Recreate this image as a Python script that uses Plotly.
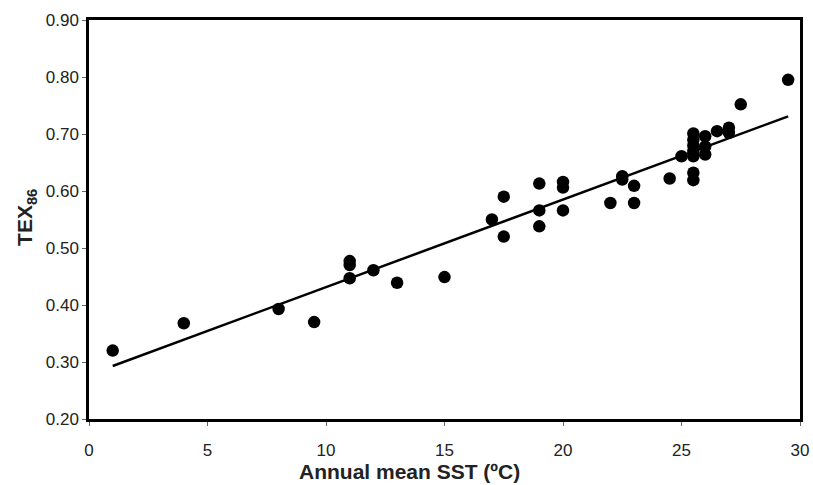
import plotly.graph_objects as go

sst = [1, 4, 8, 9.5, 11, 11, 11, 12, 13, 15, 17, 17.5, 17.5, 19, 19, 19, 20, 20, 20,
       22, 22.5, 22.5, 23, 23, 24.5, 25, 25.5, 25.5, 25.5, 25.5, 25.5, 25.5, 25.5,
       26, 26, 26, 26.5, 27, 27, 27.5, 29.5]
tex86 = [0.320, 0.368, 0.393, 0.370, 0.477, 0.470, 0.447, 0.461, 0.439, 0.449, 0.550,
         0.590, 0.520, 0.613, 0.566, 0.538, 0.616, 0.606, 0.566,
         0.579, 0.626, 0.620, 0.609, 0.579, 0.622, 0.661, 0.701, 0.690, 0.680, 0.670,
         0.661, 0.632, 0.619, 0.696, 0.678, 0.664, 0.705, 0.711, 0.702, 0.752, 0.795]

fit_x = [1, 29.5]
fit_y = [0.293, 0.731]

x_ticks = [0, 5, 10, 15, 20, 25, 30]
y_ticks = [0.2, 0.3, 0.4, 0.5, 0.6, 0.7, 0.8, 0.9]
y_tick_labels = ["0.20", "0.30", "0.40", "0.50", "0.60", "0.70", "0.80", "0.90"]

FONT = "Liberation Sans, Arial"

fig = go.Figure()
fig.add_trace(go.Scatter(x=fit_x, y=fit_y, mode="lines",
                         line=dict(color="black", width=2.5), showlegend=False))
fig.add_trace(go.Scatter(x=sst, y=tex86, mode="markers",
                         marker=dict(color="black", size=12.5), showlegend=False))

axis_common = dict(showline=True, linecolor="black", linewidth=2.5, mirror=True,
                   showgrid=False, zeroline=False, ticks="outside", ticklen=4,
                   tickcolor="#666", tickwidth=1, automargin=False,
                   tickfont=dict(family=FONT, size=17, color="#222"))

fig.update_layout(
    width=813, height=485,
    margin=dict(l=89, r=13, t=20, b=66, autoexpand=False),
    plot_bgcolor="white", paper_bgcolor="white",
    xaxis=dict(range=[0, 30], tickvals=x_ticks, ticktext=[str(t) for t in x_ticks],
               ticklabelstandoff=10, **axis_common),
    yaxis=dict(range=[0.2, 0.9], tickvals=y_ticks, ticktext=y_tick_labels,
               **axis_common),
    annotations=[
        dict(text="<b>Annual mean SST (ºC)</b>", xref="paper", yref="paper",
             x=0.451, y=0, xanchor="center", yanchor="middle", yshift=-52,
             showarrow=False, font=dict(family=FONT, size=21, color="#222")),
        dict(text="<b>TEX<sub>86</sub></b>", xref="paper", yref="paper",
             x=0, y=0.504, xanchor="center", yanchor="middle", xshift=-63,
             textangle=-90, showarrow=False,
             font=dict(family=FONT, size=21, color="#222")),
    ],
)

fig.write_html(
    "out.html",
    config={"displayModeBar": False},
    post_script="document.body.style.margin='0';document.documentElement.style.overflow='hidden';document.body.style.overflow='hidden';",
)
